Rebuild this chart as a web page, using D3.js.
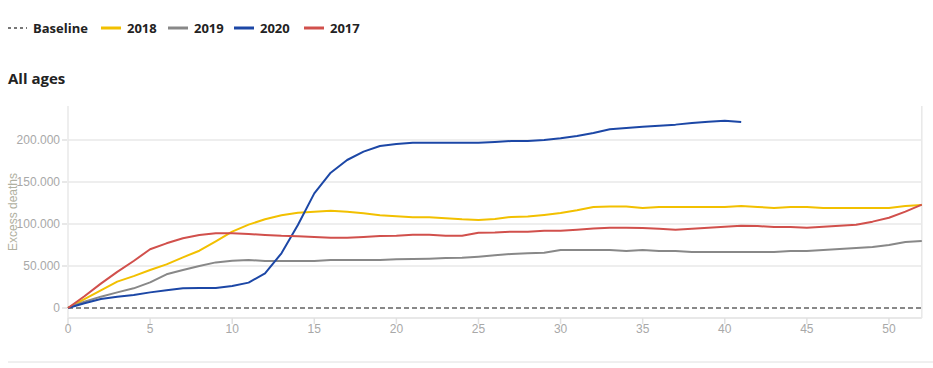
<!DOCTYPE html>
<html><head><meta charset="utf-8">
<script src="https://cdn.jsdelivr.net/npm/d3@7"></script>
<style>
body{margin:0;background:#fff;}
svg{display:block;}
</style></head><body>
<svg id="c" width="933" height="368"></svg>
<script>
const weeks = d3.range(0, 53);
const yTicks = [0, 50000, 100000, 150000, 200000];
const xTicks = [0, 5, 10, 15, 20, 25, 30, 35, 40, 45, 50];
const seriesNames = ["2018", "2019", "2020", "2017"];
const seriesColors = ["#f2c000", "#888888", "#1c47a6", "#d1504c"];
const v2017 = [0,14000,29000,43000,56000,69900,77000,83000,87000,89000,89000,88000,87000,86000,85500,84500,83700,83700,84500,85700,86000,87300,87300,86100,86100,89700,90000,90900,90900,92100,92100,93300,94500,95600,95600,95200,94400,93300,94400,95600,96800,98000,97600,96400,96400,95600,96800,98000,99200,102800,107500,114700,123000];
const v2018 = [0,10500,21000,31400,38000,45200,52000,60300,68200,79400,90900,99200,105600,110400,113500,114700,115900,114700,112700,110400,109200,108000,108000,106900,105600,104800,106000,108400,108800,110800,113100,116300,120300,120700,120700,119100,120300,120300,120300,120300,120300,121500,120300,119100,120300,120300,119100,119100,119100,119100,119100,121500,122700];
const v2019 = [0,7500,13500,18600,23400,30500,40100,45200,50000,54300,56300,57100,55900,55900,55900,55900,57100,57100,57100,57100,57900,58300,58700,59500,59900,61100,62700,64300,65100,65900,69000,69000,69000,69000,67900,69000,67900,67900,66700,66700,66700,66700,66700,66700,67900,67900,69000,70200,71400,72600,75000,78600,79800];
const v2020 = [0,5600,10700,13500,15500,18600,21000,23400,23800,23800,26200,30200,41300,65100,98800,136500,161100,176200,186100,192900,195200,196800,196800,196800,196800,196800,197600,198800,198800,200000,202000,204800,208300,212700,214300,215900,217100,218300,220200,221800,223000,221400];
const seriesValues = [v2018, v2019, v2020, v2017];

const svg = d3.select("#c");
const x = d3.scaleLinear().domain([0, 52]).range([68, 921.8]);
const y = d3.scaleLinear().domain([0, 240000]).range([308, 106.4]);
const plotBottom = 318;
const fmt = v => d3.format(",")(v).replace(/,/g, ".");

// legend
const leg = svg.append("g").attr("font-family", "'Open Sans', sans-serif").attr("font-weight", 700).attr("font-size", 13).attr("fill", "#222");
leg.append("line").attr("x1", 8).attr("x2", 27).attr("y1", 28).attr("y2", 28)
  .attr("stroke", "#777").attr("stroke-width", 2).attr("stroke-dasharray", "3,3");
leg.append("text").attr("x", 33).attr("y", 33).text("Baseline");
const legX = [101, 168, 234, 304];
seriesNames.forEach((n, i) => {
  leg.append("line").attr("x1", legX[i]).attr("x2", legX[i] + 20).attr("y1", 28).attr("y2", 28)
    .attr("stroke", seriesColors[i]).attr("stroke-width", 3);
  leg.append("text").attr("x", legX[i] + 26).attr("y", 33).text(n);
});

svg.append("text").attr("x", 8).attr("y", 84).attr("font-family", "'Open Sans', sans-serif")
  .attr("font-weight", 700).attr("font-size", 15).attr("fill", "#222").text("All ages");

// grid
svg.append("g").selectAll("line").data(yTicks.filter(d => d > 0)).join("line")
  .attr("x1", 68).attr("x2", 921.8).attr("y1", d => y(d)).attr("y2", d => y(d))
  .attr("stroke", "#e8e8e8").attr("stroke-width", 1.5);
// frame
svg.append("line").attr("x1", 68).attr("x2", 68).attr("y1", 106).attr("y2", plotBottom).attr("stroke", "#e8e8e8").attr("stroke-width", 1.5);
svg.append("line").attr("x1", 921.8).attr("x2", 921.8).attr("y1", 106).attr("y2", plotBottom).attr("stroke", "#e8e8e8").attr("stroke-width", 1.5);
svg.append("line").attr("x1", 68).attr("x2", 921.8).attr("y1", plotBottom).attr("y2", plotBottom).attr("stroke", "#e8e8e8").attr("stroke-width", 2);

// y axis ticks
const yg = svg.append("g").attr("font-family", "'Liberation Sans', Arial, sans-serif").attr("font-size", 12).attr("fill", "#a8a8a8");
yTicks.forEach(t => {
  yg.append("line").attr("x1", 62).attr("x2", 67).attr("y1", y(t)).attr("y2", y(t)).attr("stroke", "#e0e0e0").attr("stroke-width", 1.5);
  yg.append("text").attr("x", 60).attr("y", y(t)).attr("dy", "0.35em").attr("text-anchor", "end").text(fmt(t));
});
// x axis ticks
const xg = svg.append("g").attr("font-family", "'Liberation Sans', Arial, sans-serif").attr("font-size", 12).attr("fill", "#a8a8a8");
xTicks.forEach(t => {
  xg.append("line").attr("x1", x(t)).attr("x2", x(t)).attr("y1", plotBottom).attr("y2", plotBottom + 6).attr("stroke", "#e0e0e0").attr("stroke-width", 1.5);
  xg.append("text").attr("x", x(t)).attr("y", plotBottom + 15).attr("text-anchor", "middle").text(t);
});
svg.append("text").attr("transform", `translate(17,212) rotate(-90)`).attr("text-anchor", "middle")
  .attr("font-family", "'Liberation Sans', Arial, sans-serif").attr("font-size", 12).attr("fill", "#b0b0a0").text("Excess deaths");

// baseline
svg.append("line").attr("x1", x(0)).attr("x2", x(52)).attr("y1", y(0)).attr("y2", y(0))
  .attr("stroke", "#888").attr("stroke-width", 2).attr("stroke-dasharray", "5,3");

// series
const line = d3.line().x((d, i) => x(weeks[i])).y(d => y(d));
seriesValues.forEach((vals, i) => {
  svg.append("path").attr("d", line(vals)).attr("fill", "none")
    .attr("stroke", seriesColors[i]).attr("stroke-width", 2).attr("stroke-linejoin", "round");
});

svg.append("line").attr("x1", 8).attr("x2", 933).attr("y1", 362).attr("y2", 362).attr("stroke", "#e0e0e0").attr("stroke-width", 1);
</script>
</body></html>
